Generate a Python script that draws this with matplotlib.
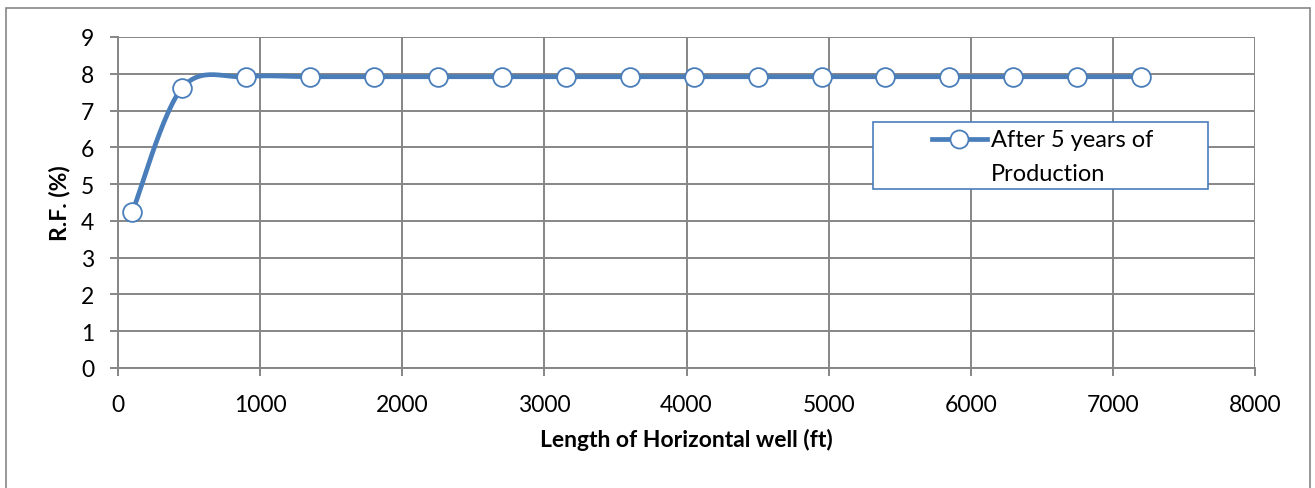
import numpy as np
import matplotlib.pyplot as plt
from matplotlib.patches import Rectangle

# data
length_ft = [100, 450, 900, 1350, 1800, 2250, 2700, 3150, 3600, 4050,
             4500, 4950, 5400, 5850, 6300, 6750, 7200]
rf_pct = [4.23, 7.61, 7.92, 7.92, 7.92, 7.92, 7.92, 7.92, 7.92, 7.92,
          7.92, 7.92, 7.92, 7.92, 7.92, 7.92, 7.92]
series_name = "After 5 years of\nProduction"

BLUE = "#4A7EBB"
GRID = "#868686"

plt.rcParams['font.family'] = ['Lato', 'DejaVu Sans']


def smooth_curve(x, y, n=30, tension=1/6):
    """Excel-like smoothed line: cubic bezier through the points."""
    x = np.asarray(x, float)
    y = np.asarray(y, float)
    xs, ys = [x[0]], [y[0]]
    t = np.linspace(0, 1, n)[1:]
    for i in range(len(x) - 1):
        p0 = np.array([x[max(i - 1, 0)], y[max(i - 1, 0)]])
        p1 = np.array([x[i], y[i]])
        p2 = np.array([x[i + 1], y[i + 1]])
        p3 = np.array([x[min(i + 2, len(x) - 1)], y[min(i + 2, len(x) - 1)]])
        c1 = p1 + (p2 - p0) * tension
        c2 = p2 - (p3 - p1) * tension
        b = ((1 - t) ** 3)[:, None] * p1 + (3 * (1 - t) ** 2 * t)[:, None] * c1 \
            + (3 * (1 - t) * t ** 2)[:, None] * c2 + (t ** 3)[:, None] * p2
        xs.extend(b[:, 0])
        ys.extend(b[:, 1])
    return np.array(xs), np.array(ys)


W, H = 1315, 489
fig = plt.figure(figsize=(W / 100, H / 100), dpi=100)
ax = fig.add_axes([118 / W, 1 - 369 / H, (1255 - 118) / W, (369 - 38) / H])

# outer chart border (bottom edge falls outside the image)
fig.patches.append(Rectangle((6 / W, -0.05), 1304 / W, 1.05 - 9 / H,
                             transform=fig.transFigure, fill=False,
                             edgecolor=GRID, linewidth=1.2))

sx, sy = smooth_curve(length_ft, rf_pct)
ax.plot(sx, sy, color=BLUE, linewidth=3.4, solid_capstyle='round', zorder=3)
ax.plot(length_ft, rf_pct, linestyle='none', marker='o', markersize=13.5,
        markerfacecolor='white', markeredgecolor=BLUE, markeredgewidth=1.3,
        zorder=4)

ax.set_xlim(0, 8000)
ax.set_ylim(0, 9)
ax.set_xticks(np.arange(0, 8001, 1000))
ax.set_yticks(np.arange(0, 10, 1))
ax.grid(True, color=GRID, linewidth=1.4)
ax.set_axisbelow(True)
for s in ax.spines.values():
    s.set_color(GRID)
    s.set_linewidth(1.4)
ax.spines['right'].set_visible(False)
ax.spines['top'].set_visible(False)
ax.tick_params(axis='both', color=GRID, width=1.4, length=6, labelsize=16.5,
               direction='out')
ax.tick_params(axis='x', pad=13)
ax.tick_params(axis='y', pad=11)

ax.set_xlabel("Length of Horizontal well (ft)", fontsize=16.5, fontweight='bold', labelpad=9)
ax.set_ylabel("R.F. (%)", fontsize=16.5, fontweight='bold', labelpad=8)

# legend
fig.patches.append(Rectangle((873 / W, 1 - 190 / H), (1208 - 873) / W, (190 - 123) / H,
                             transform=fig.transFigure, facecolor='white',
                             edgecolor=BLUE, linewidth=1.2, zorder=5))
hy = 1 - 140 / H
fig.lines.append(plt.Line2D([932 / W, 987 / W], [hy, hy], transform=fig.transFigure,
                            color=BLUE, linewidth=3.4, zorder=6))
fig.lines.append(plt.Line2D([959 / W], [hy], transform=fig.transFigure, marker='o',
                            markersize=13, markerfacecolor='white', markeredgecolor=BLUE,
                            markeredgewidth=1.3, zorder=7))
fig.text(991 / W, 1 - 147 / H, "After 5 years of", fontsize=17, va='baseline',
         ha='left', zorder=8)
fig.text(991 / W, 1 - 181 / H, "Production", fontsize=17, va='baseline',
         ha='left', zorder=8)

fig.savefig("out.png", dpi=100)
